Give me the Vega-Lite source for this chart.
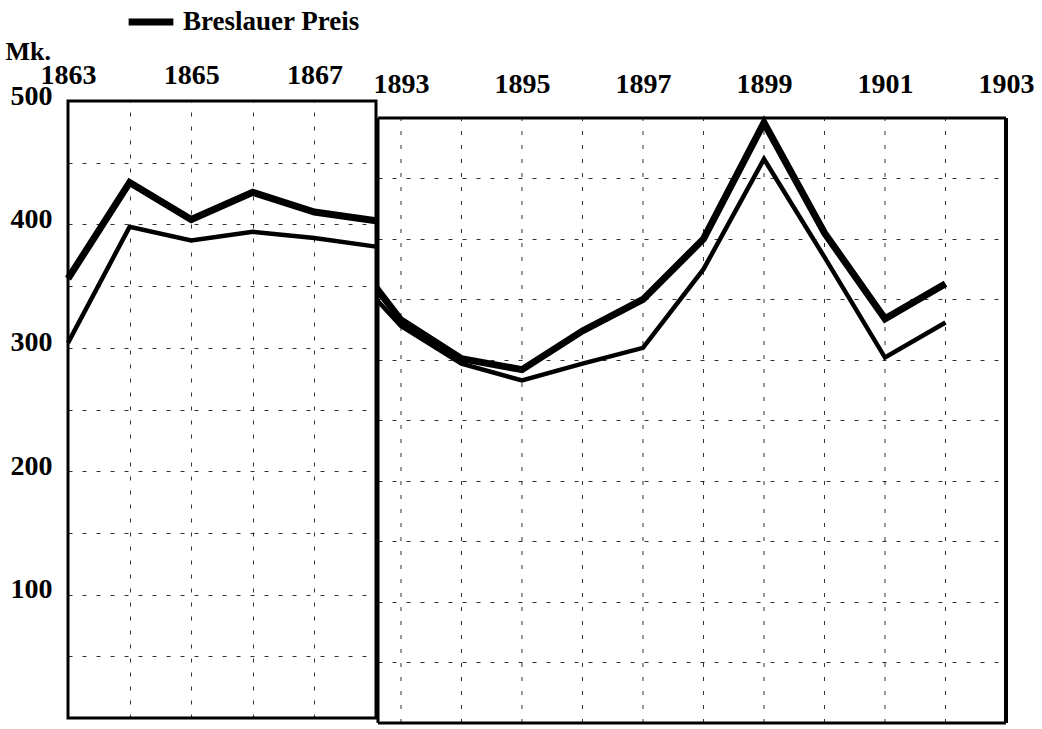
{
  "$schema": "https://vega.github.io/schema/vega-lite/v6.json",
  "padding": {"left": 3, "top": -4, "right": 0, "bottom": 0},
  "background": "white",
  "config": {
    "font": "Liberation Serif",
    "view": {"stroke": "black", "strokeWidth": 3},
    "axis": {
      "labelFont": "Liberation Serif",
      "labelFontWeight": "bold",
      "labelFontSize": 28,
      "labelColor": "black",
      "labelFlush": false,
      "domain": false,
      "ticks": false,
      "gridColor": "black",
      "gridDash": [4, 10],
      "gridWidth": 1,
      "gridOpacity": 0.8
    }
  },
  "datasets": {
    "links": [
      {"jahr": 1863, "reihe": "Breslauer Preis", "preis": 356},
      {"jahr": 1864, "reihe": "Breslauer Preis", "preis": 434},
      {"jahr": 1865, "reihe": "Breslauer Preis", "preis": 404},
      {"jahr": 1866, "reihe": "Breslauer Preis", "preis": 426},
      {"jahr": 1867, "reihe": "Breslauer Preis", "preis": 410},
      {"jahr": 1868, "reihe": "Breslauer Preis", "preis": 403},
      {"jahr": 1863, "reihe": "Vergleichspreis", "preis": 304},
      {"jahr": 1864, "reihe": "Vergleichspreis", "preis": 398},
      {"jahr": 1865, "reihe": "Vergleichspreis", "preis": 387},
      {"jahr": 1866, "reihe": "Vergleichspreis", "preis": 394},
      {"jahr": 1867, "reihe": "Vergleichspreis", "preis": 389},
      {"jahr": 1868, "reihe": "Vergleichspreis", "preis": 382}
    ],
    "rechts": [
      {"jahr": 1892, "reihe": "Breslauer Preis", "preis": 398},
      {"jahr": 1893, "reihe": "Breslauer Preis", "preis": 333},
      {"jahr": 1894, "reihe": "Breslauer Preis", "preis": 301},
      {"jahr": 1895, "reihe": "Breslauer Preis", "preis": 292},
      {"jahr": 1896, "reihe": "Breslauer Preis", "preis": 324},
      {"jahr": 1897, "reihe": "Breslauer Preis", "preis": 350},
      {"jahr": 1898, "reihe": "Breslauer Preis", "preis": 400},
      {"jahr": 1899, "reihe": "Breslauer Preis", "preis": 496},
      {"jahr": 1900, "reihe": "Breslauer Preis", "preis": 405},
      {"jahr": 1901, "reihe": "Breslauer Preis", "preis": 334},
      {"jahr": 1902, "reihe": "Breslauer Preis", "preis": 363},
      {"jahr": 1892, "reihe": "Vergleichspreis", "preis": 382},
      {"jahr": 1893, "reihe": "Vergleichspreis", "preis": 328},
      {"jahr": 1894, "reihe": "Vergleichspreis", "preis": 297},
      {"jahr": 1895, "reihe": "Vergleichspreis", "preis": 283},
      {"jahr": 1896, "reihe": "Vergleichspreis", "preis": 297},
      {"jahr": 1897, "reihe": "Vergleichspreis", "preis": 310},
      {"jahr": 1898, "reihe": "Vergleichspreis", "preis": 375},
      {"jahr": 1899, "reihe": "Vergleichspreis", "preis": 466},
      {"jahr": 1900, "reihe": "Vergleichspreis", "preis": 385},
      {"jahr": 1901, "reihe": "Vergleichspreis", "preis": 302},
      {"jahr": 1902, "reihe": "Vergleichspreis", "preis": 331}
    ],
    "jahre": [
      {"jahr": 1893}, {"jahr": 1894}, {"jahr": 1895}, {"jahr": 1896}, {"jahr": 1897},
      {"jahr": 1898}, {"jahr": 1899}, {"jahr": 1900}, {"jahr": 1901}, {"jahr": 1902}
    ]
  },
  "spacing": 2,
  "bounds": "flush",
  "hconcat": [
    {
      "width": 308,
      "height": 617,
      "data": {"name": "links"},
      "mark": {"type": "line", "color": "black"},
      "encoding": {
        "x": {
          "field": "jahr",
          "type": "quantitative",
          "scale": {"domain": [1863, 1868], "nice": false, "zero": false},
          "axis": {
            "orient": "top",
            "values": [1863, 1864, 1865, 1866, 1867, 1868],
            "format": "d",
            "labelExpr": "datum.value % 2 == 1 ? datum.label : ''",
            "labelPadding": 12,
            "title": null,
            "grid": true
          }
        },
        "y": {
          "field": "preis",
          "type": "quantitative",
          "scale": {"domain": [0, 500], "nice": false},
          "axis": {
            "values": [0, 50, 100, 150, 200, 250, 300, 350, 400, 450, 500],
            "labelExpr": "datum.value % 100 == 0 && datum.value > 0 ? datum.label : ''",
            "labelPadding": 16,
            "labelBaseline": "middle",
            "labelOffset": -5,
            "title": "Mk.",
            "titleAngle": 0,
            "titleX": -63,
            "titleY": -42,
            "titleAlign": "left",
            "titleBaseline": "alphabetic",
            "titleFont": "Liberation Serif",
            "titleFontSize": 26,
            "titleFontWeight": "bold",
            "titleColor": "black"
          }
        },
        "strokeWidth": {
          "field": "reihe",
          "type": "nominal",
          "scale": {"domain": ["Breslauer Preis", "Vergleichspreis"], "range": [7, 4.5]},
          "legend": {
            "values": ["Breslauer Preis"],
            "title": null,
            "orient": "none",
            "legendX": 57,
            "legendY": -105,
            "padding": 0,
            "symbolType": "stroke",
            "symbolSize": 2000,
            "symbolStrokeColor": "black",
            "labelFont": "Liberation Serif",
            "labelFontSize": 27,
            "labelFontWeight": "bold",
            "labelColor": "black",
            "labelOffset": 6,
            "labelLimit": 0
          }
        }
      }
    },
    {
      "width": 628,
      "height": 622,
      "view": {"stroke": null},
      "layer": [
        {
          "data": {"name": "jahre"},
          "mark": {"type": "rule", "color": "black", "strokeDash": [4, 10], "strokeWidth": 1, "opacity": 0.8},
          "encoding": {
            "x": {"field": "jahr", "type": "quantitative", "scale": {"domain": [1892.62, 1903], "nice": false, "zero": false}},
            "y": {"datum": 0},
            "y2": {"datum": 500}
          }
        },
        {
          "data": {"name": "rechts"},
          "mark": {"type": "line", "color": "black", "clip": true},
          "encoding": {
            "x": {
              "field": "jahr",
              "type": "quantitative",
              "scale": {"domain": [1892.62, 1903], "nice": false, "zero": false},
              "axis": {
                "orient": "top",
                "values": [1893, 1894, 1895, 1896, 1897, 1898, 1899, 1900, 1901, 1902, 1903],
                "format": "d",
                "labelExpr": "datum.value % 2 == 1 ? datum.label : ''",
                "labelPadding": 3,
                "title": null,
                "grid": false
              }
            },
            "y": {
              "field": "preis",
              "type": "quantitative",
              "scale": {"domain": [0, 514], "nice": false},
              "axis": {
                "values": [50, 100, 150, 200, 250, 300, 350, 400, 450],
                "labels": false,
                "title": null,
                "grid": true
              }
            },
            "strokeWidth": {"field": "reihe", "type": "nominal"}
          }
        },
        {
          "data": {"values": [{}]},
          "mark": {"type": "rule", "color": "black", "strokeWidth": 3},
          "encoding": {"y": {"datum": 500}}
        },
        {
          "data": {"values": [{}]},
          "mark": {"type": "rule", "color": "black", "strokeWidth": 3},
          "encoding": {"y": {"datum": 0}}
        },
        {
          "data": {"values": [{}]},
          "mark": {"type": "rule", "color": "black", "strokeWidth": 3},
          "encoding": {"x": {"datum": 1892.62}, "y": {"datum": 0}, "y2": {"datum": 500}}
        },
        {
          "data": {"values": [{}]},
          "mark": {"type": "rule", "color": "black", "strokeWidth": 4},
          "encoding": {"x": {"datum": 1903}, "y": {"datum": 0}, "y2": {"datum": 500}}
        }
      ]
    }
  ]
}
